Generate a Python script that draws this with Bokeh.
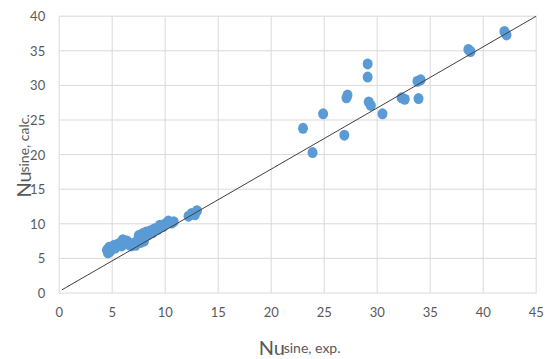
import math
from bokeh.plotting import figure
from bokeh.models import Label
from bokeh.core.properties import value
from bokeh.embed import file_html
from bokeh.resources import INLINE

# Data: Nu_sine experimental vs calculated
nu_exp = [4.5, 4.6, 4.7, 4.8, 5.0, 5.2, 5.3, 5.5, 5.7, 5.9, 6.0, 6.2, 6.4, 6.6, 6.8,
          7.0, 7.2, 7.4, 7.5, 7.7, 7.9, 8.0, 8.2, 8.4, 8.6, 8.8, 9.0, 9.3, 9.5, 9.8,
          10.0, 10.3, 10.6, 10.8, 12.2, 12.5, 12.8, 13.0,
          23.0, 23.9, 24.9, 26.9, 27.1, 27.2, 29.1, 29.1, 29.2, 29.4, 30.5,
          32.3, 32.6, 33.8, 34.1, 33.9, 38.6, 38.8, 42.0, 42.2]
nu_calc = [6.2, 5.8, 6.6, 6.0, 6.4, 6.9, 6.5, 7.0, 7.2, 6.8, 7.7, 7.3, 7.5, 7.0, 6.8,
           7.2, 6.9, 7.6, 8.3, 7.3, 8.6, 7.5, 8.8, 8.4, 9.0, 8.7, 9.3, 9.2, 9.8, 9.6,
           10.0, 10.4, 10.1, 10.3, 11.1, 11.5, 11.3, 11.9,
           23.8, 20.3, 25.9, 22.8, 28.2, 28.6, 33.1, 31.2, 27.6, 27.1, 25.9,
           28.2, 28.0, 30.6, 30.8, 28.1, 35.2, 34.9, 37.8, 37.3]

# Reference line
line_x = [0.25, 45]
line_y = [0.45, 40]

x_ticks = [0, 5, 10, 15, 20, 25, 30, 35, 40, 45]
y_ticks = [0, 5, 10, 15, 20, 25, 30, 35, 40]
x_tick_labels = [str(t) for t in x_ticks]
y_tick_labels = [str(t) for t in y_ticks]

x_title_main, x_title_sub = "Nu", "sine, exp."
y_title_main, y_title_sub = "Nu", "sine, calc."

FONT_NAME = "Lato"
FONT = value(FONT_NAME)
GRAY = "#595959"
GRID = "#D9D9D9"

W, H = 550, 359
# plot-area placement in pixels (frame drawn manually so titles are never clipped)
L, R, T, B = 58.7, 535.7, 15.7, 292.5
xmin, xmax = x_ticks[0], x_ticks[-1]
ymin, ymax = y_ticks[0], y_ticks[-1]
sx = (R - L) / (xmax - xmin)
sy = (B - T) / (ymax - ymin)
x_range = (xmin - L / sx, xmax + (W - R) / sx)
y_range = (ymin - (H - B) / sy, ymax + T / sy)

p = figure(width=W, height=H, x_range=x_range, y_range=y_range,
           output_backend="svg", toolbar_location=None,
           min_border=0, min_border_left=0, min_border_right=0,
           min_border_top=0, min_border_bottom=0)
p.axis.visible = False
p.grid.visible = False
p.outline_line_color = None
p.background_fill_color = "white"
p.border_fill_color = "white"

# gridlines
p.segment(x0=x_ticks, y0=[ymin] * len(x_ticks), x1=x_ticks, y1=[ymax] * len(x_ticks),
          line_color=GRID, line_width=1)
p.segment(x0=[xmin] * len(y_ticks), y0=y_ticks, x1=[xmax] * len(y_ticks), y1=y_ticks,
          line_color=GRID, line_width=1)

# tick labels
p.text(x=x_ticks, y=[ymin] * len(x_ticks), text=x_tick_labels, y_offset=14,
       text_align="center", text_baseline="top", text_font=FONT,
       text_font_size="13px", text_color=GRAY)
p.text(x=[xmin] * len(y_ticks), y=y_ticks, text=y_tick_labels, x_offset=-14,
       text_align="right", text_baseline="middle", text_font=FONT,
       text_font_size="13px", text_color=GRAY)

# data
p.ellipse(x=nu_exp, y=nu_calc, width=10, height=11, width_units="screen",
          height_units="screen", fill_color="#5B9BD5", line_color=None)
p.line(line_x, line_y, line_color="#404040", line_width=1)

# axis titles
xc = (xmin + xmax) / 2
yc = (ymin + ymax) / 2
p.text(x=[xc], y=[ymin], text=[x_title_main], x_offset=-39, y_offset=54,
       text_align="left", text_baseline="alphabetic", text_font=FONT,
       text_font_size="20px", text_color=GRAY)
p.text(x=[xc], y=[ymin], text=[x_title_sub], x_offset=-14, y_offset=54,
       text_align="left", text_baseline="alphabetic", text_font=FONT,
       text_font_size="14px", text_color=GRAY)
p.add_layout(Label(x=xmin, y=yc, text=y_title_main, x_offset=-36, y_offset=-43,
                   angle=math.pi / 2, text_align="left", text_baseline="alphabetic",
                   text_font=FONT_NAME, text_font_size="20px", text_color=GRAY))
p.add_layout(Label(x=xmin, y=yc, text=y_title_sub, x_offset=-36, y_offset=-18,
                   angle=math.pi / 2, text_align="left", text_baseline="alphabetic",
                   text_font=FONT_NAME, text_font_size="14px", text_color=GRAY))

open("out.html", "w").write(file_html(p, INLINE))
